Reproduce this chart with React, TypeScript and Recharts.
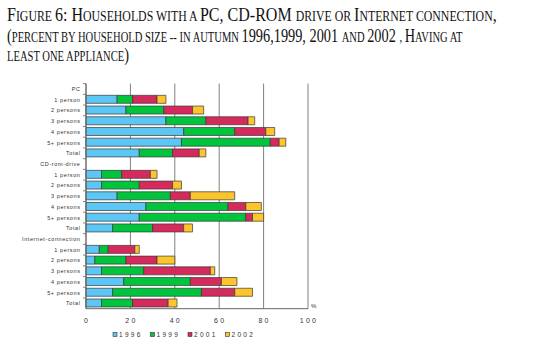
import React, { useLayoutEffect, useRef, useState } from "react";
import { BarChart, Bar, XAxis, YAxis, CartesianGrid } from "recharts";

const categories = [
  "PC", "1 person", "2 persons", "3 persons", "4 persons", "5+ persons", "Total",
  "CD-rom-drive", "1 person", "2 persons", "3 persons", "4 persons", "5+ persons", "Total",
  "Internet-connection", "1 person", "2 persons", "3 persons", "4 persons", "5+ persons", "Total",
];

// stacked segment values (percent points) per survey year
const y1996 = [null, 14, 18, 36, 44, 43, 24, null, 7, 7, 14, 27, 24, 12, null, 6, 4, 7, 17, 12, 7];
const y1999 = [null, 7, 17, 18, 23, 40, 15, null, 9, 17, 24, 37, 48, 18, null, 4, 14, 19, 30, 40, 14];
const y2001 = [null, 11, 13, 19, 14, 4, 12, null, 13, 15, 9, 8, 3, 14, null, 12, 14, 30, 14, 15, 16];
const y2002 = [null, 4, 5, 3, 4, 3, 3, null, 3, 4, 20, 7, 5, 4, null, 2, 8, 2, 7, 8, 4];

const seriesNames = ["1996", "1999", "2001", "2002"];
const seriesColors = ["#5cc6f4", "#00c43c", "#d42a5c", "#fdc42c"];
const seriesValues = [y1996, y1999, y2001, y2002];
const xTicks = [0, 20, 40, 60, 80, 100];

const data = categories.map((c, i) => {
  const row: any = { key: "k" + i, label: c };
  seriesNames.forEach((s, j) => {
    row["s" + s] = seriesValues[j][i];
  });
  return row;
});

const BAND = 10.7;

const YTick = (props: any) => {
  const { x, y, payload } = props;
  const idx = Number(String(payload.value).slice(1));
  const label = categories[idx];
  return (
    <g>
      <line x1={x - 3} x2={x} y1={y - BAND / 2} y2={y - BAND / 2} stroke="#666" strokeWidth={0.8} />
      <text
        x={x - 5.5}
        y={y}
        dy={2}
        textAnchor="end"
        fontSize={5.5}
        letterSpacing={0.6}
        fontFamily="Liberation Sans, Arial, sans-serif"
        fill="#333"
      >
        {label}
      </text>
    </g>
  );
};

const XTick = (props: any) => {
  const { x, y, payload } = props;
  return (
    <text
      x={x + 1}
      y={y + 6}
      textAnchor="middle"
      fontSize={7}
      letterSpacing={2.2}
      fontFamily="Liberation Sans, Arial, sans-serif"
      fill="#333"
    >
      {payload.value}
    </text>
  );
};

const Big = (p: { children: any }) => <tspan fontSize={19}>{p.children}</tspan>;
const Sm = (p: { children: any }) => <tspan fontSize={14}>{p.children}</tspan>;

const FitLine = (p: { x: number; y: number; width: number; children: any }) => {
  const ref = useRef<SVGTextElement>(null);
  const [sx, setSx] = useState(0.85);
  useLayoutEffect(() => {
    if (ref.current) {
      const w = ref.current.getComputedTextLength();
      if (w > 0) setSx(p.width / w);
    }
  }, [p.width]);
  return (
    <g transform={`translate(${p.x},${p.y}) scale(${sx},1)`}>
      <text ref={ref} x={0} y={0}>
        {p.children}
      </text>
    </g>
  );
};

export default function App() {
  return (
    <div style={{ position: "absolute", left: 0, top: 0, width: 554, height: 346, background: "#fff" }}>
      <svg width={554} height={70} style={{ position: "absolute", left: 0, top: 0 }}>
        <g fontFamily="Liberation Serif, Times New Roman, serif" fill="#111">
          <FitLine x={7} y={20.7} width={490}>
            <Big>F</Big><Sm>IGURE </Sm><Big>6: H</Big><Sm>OUSEHOLDS WITH A </Sm><Big>PC, CD-ROM </Big>
            <Sm>DRIVE OR </Sm><Big>I</Big><Sm>NTERNET CONNECTION</Sm><Big>,</Big>
          </FitLine>
          <FitLine x={7} y={41.7} width={456}>
            <Big>(</Big><Sm>PERCENT BY HOUSEHOLD  SIZE -- IN AUTUMN </Sm><Big>1996,1999, 2001 </Big>
            <Sm>AND </Sm><Big>2002 </Big><Sm>, </Sm><Big>H</Big><Sm>AVING AT</Sm>
          </FitLine>
          <FitLine x={7} y={61} width={122}>
            <Sm>LEAST ONE APPLIANCE</Sm><Big>)</Big>
          </FitLine>
        </g>
      </svg>
      <div style={{ position: "absolute", left: 0, top: 0 }}>
        <BarChart
          width={554}
          height={346}
          data={data}
          layout="vertical"
          margin={{ top: 83.6, right: 246, bottom: 17.3, left: 0 }}
          barSize={8}
        >
          <CartesianGrid horizontal={false} vertical={true} stroke="#808080" strokeWidth={1} />
          <XAxis
            type="number"
            domain={[0, 100]}
            ticks={xTicks}
            interval={0}
            height={20}
            axisLine={{ stroke: "#666" }}
            tickLine={false}
            tick={<XTick />}
          />
          <XAxis
            xAxisId="top"
            orientation="top"
            type="number"
            domain={[0, 100]}
            height={0}
            tick={false}
            tickLine={false}
            axisLine={{ stroke: "#808080" }}
          />
          <YAxis
            type="category"
            dataKey="key"
            width={86}
            interval={0}
            tickSize={0}
            tickMargin={0}
            axisLine={{ stroke: "#666" }}
            tickLine={false}
            tick={<YTick />}
          />
          {seriesNames.map((s, j) => (
            <Bar
              key={s}
              dataKey={"s" + s}
              name={s}
              stackId="a"
              fill={seriesColors[j]}
              stroke="#3a3a3a"
              strokeWidth={0.7}
              isAnimationActive={false}
            />
          ))}
        </BarChart>
      </div>
      <svg width={554} height={346} style={{ position: "absolute", left: 0, top: 0, pointerEvents: "none" }}>
        <text x={311} y={308} fontSize={6} fontFamily="Liberation Sans, Arial, sans-serif" fill="#333">%</text>
        {seriesNames.map((s, j) => {
          const x0 = 113 + j * 37.5;
          return (
            <g key={s}>
              <rect x={x0} y={332.5} width={4} height={4} fill={seriesColors[j]} stroke="#333" strokeWidth={0.6} />
              <text
                x={x0 + 6}
                y={337}
                fontSize={6.5}
                letterSpacing={2.3}
                fontFamily="Liberation Sans, Arial, sans-serif"
                fill="#333"
              >
                {s}
              </text>
            </g>
          );
        })}
      </svg>
    </div>
  );
}
